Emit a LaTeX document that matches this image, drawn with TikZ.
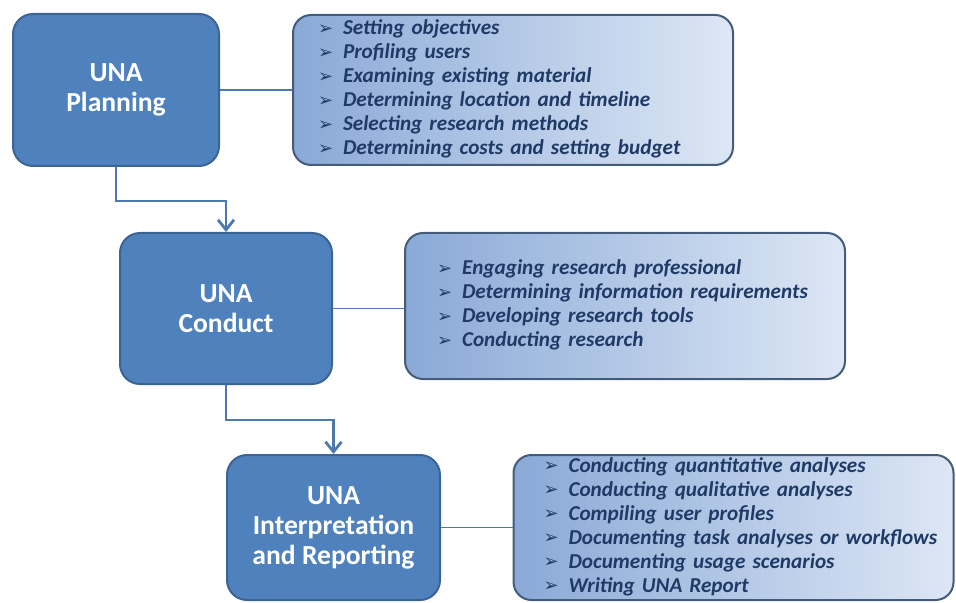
\documentclass[tikz,border=0pt]{standalone}
\usepackage{fontspec}
\setmainfont{Carlito}
\newfontfamily\symfont{DejaVu Sans}
\usetikzlibrary{arrows.meta}

\definecolor{stagefill}{HTML}{4F81BD}
\definecolor{stagedraw}{HTML}{3A6496}
\definecolor{flowcol}{HTML}{4D79B0}
\definecolor{taskleft}{HTML}{8AA9D7}
\definecolor{taskright}{HTML}{DDE7F5}
\definecolor{taskdraw}{HTML}{445C7C}
\definecolor{tasktext}{HTML}{1F3A66}

\newcommand{\bul}{\makebox[12.5pt][l]{\raisebox{0.3pt}{\symfont\fontsize{9}{9}\selectfont ➢}}}
\newcommand{\task}[1]{\bul\textit{#1}}

\begin{document}
\begin{tikzpicture}[x=0.5pt, y=-0.5pt]
	\tikzstyle{stage} = [rectangle, rounded corners=10pt, draw=stagedraw, line width=1pt, fill=stagefill,
		text=white, align=center, inner sep=0pt, font=\fontsize{13.8}{15}\selectfont\bfseries]
	\tikzstyle{tasks} = [rectangle, rounded corners=9pt, draw=taskdraw, line width=1pt,
		left color=taskleft, right color=taskright, text=tasktext, inner ysep=0pt,
		font=\fontsize{10.6}{12}\selectfont\bfseries]
	\tikzstyle{flow} = [draw=flowcol, line width=1.4pt, -{Straight Barb[length=5pt, width=8pt]}]
	\tikzstyle{link} = [draw=flowcol, line width=0.8pt]

	\useasboundingbox (0,0) rectangle (956,603);

	% stages
	\node[stage, minimum width=103pt, minimum height=76pt] (plan) at (116,90) {UNA\\Planning};
	\node[stage, minimum width=106pt, minimum height=75.5pt] (cond) at (226,308.5) {UNA\\Conduct};
	\node[stage, minimum width=106.5pt, minimum height=72.5pt] (rep) at (333.5,527.5) {UNA\\Interpretation\\and Reporting};

	% task lists
	\node[tasks, minimum width=220pt, minimum height=75pt, inner xsep=12.5pt, text width=195pt] (planlist) at (513,90) {%
		\begin{tabular}{@{}l@{}}
			\task{Setting objectives}\\
			\task{Profiling users}\\
			\task{Examining existing material}\\
			\task{Determining location and timeline}\\
			\task{Selecting research methods}\\
			\task{Determining costs and setting budget}
		\end{tabular}};
	\node[tasks, minimum width=220pt, minimum height=73pt, inner xsep=16pt, text width=188pt] (condlist) at (625,306) {%
		\begin{tabular}{@{}l@{}}
			\task{Engaging research professional}\\
			\task{Determining information requirements}\\
			\task{Developing research tools}\\
			\task{Conducting research}
		\end{tabular}};
	\node[tasks, minimum width=220pt, minimum height=72.5pt, inner xsep=15pt, text width=190pt] (replist) at (733.5,527.5) {%
		\begin{tabular}{@{}l@{}}
			\task{Conducting quantitative analyses}\\
			\task{Conducting qualitative analyses}\\
			\task{Compiling user profiles}\\
			\task{Documenting task analyses or workflows}\\
			\task{Documenting usage scenarios}\\
			\task{Writing UNA Report}
		\end{tabular}};

	% connectors
	\draw[flow] (plan.south) -- ++(0,-17pt) -| (cond.north);
	\draw[flow] (cond.south) -- ++(0,-17.5pt) -| (rep.north);

	\foreach \from/\to in {plan/planlist, cond/condlist, rep/replist}
		\draw[link] (\from.east) -- (\from.east -| \to.west);
\end{tikzpicture}
\end{document}
